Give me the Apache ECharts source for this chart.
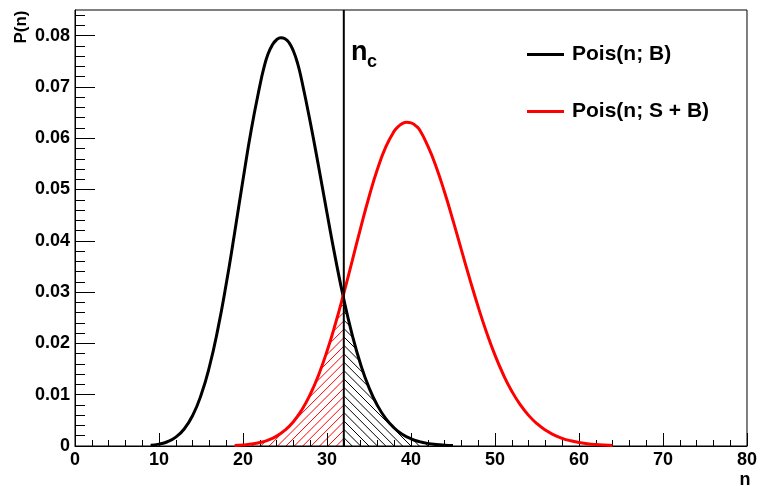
<!DOCTYPE html>
<html>
<head>
<meta charset="utf-8">
<script src="https://cdn.jsdelivr.net/npm/echarts@6/dist/echarts.min.js"></script>
<style>
  html, body { margin: 0; padding: 0; background: #fff; }
  #chart { width: 760px; height: 486px; }
</style>
</head>
<body>
<div id="chart"></div>
<script>
// chart data (extra half steps near the peaks)
var nB = [9, 10, 11, 12, 13, 14, 15, 16, 17, 18, 19, 20, 21, 22, 22.5, 23, 23.5, 24, 24.5,
          25, 25.5, 26, 26.5, 27, 28, 29, 30, 31, 32, 33, 34, 35, 36, 37, 38, 39, 40,
          41, 42, 43, 44, 45];
var pB = [0.00015, 0.00036, 0.00083, 0.00173, 0.00332, 0.00593, 0.00989, 0.01545,
          0.02273, 0.03156, 0.04153, 0.05191, 0.06180, 0.07020, 0.07380, 0.07650,
          0.07820, 0.07920, 0.07960, 0.07940, 0.07860, 0.07700, 0.07460, 0.07120,
          0.06321, 0.05449, 0.04541, 0.03662, 0.02861, 0.02168, 0.01594, 0.01138,
          0.00791, 0.00534, 0.00351, 0.00225, 0.00141, 0.00086, 0.00051, 0.00030,
          0.00017, 0.00009];

var nSB = [19, 20, 21, 22, 23, 24, 25, 26, 27, 28, 29, 30, 31, 32, 33, 34, 35, 36, 37,
           38, 38.5, 39, 39.5, 40, 40.5, 41, 42, 43, 44, 45, 46, 47, 48, 49, 50, 51, 52,
           53, 54, 55, 56, 57, 58, 59, 60, 61, 62, 63, 64];
var pSB = [0.00010, 0.00019, 0.00037, 0.00067, 0.00116, 0.00193, 0.00308, 0.00474,
           0.00703, 0.01004, 0.01385, 0.01847, 0.02383, 0.02978, 0.03610, 0.04247,
           0.04854, 0.05394, 0.05831, 0.06138, 0.06230, 0.06290, 0.06310, 0.06300,
           0.06250, 0.06170, 0.05849, 0.05441, 0.04946, 0.04397, 0.03823, 0.03254,
           0.02712, 0.02214, 0.01771, 0.01389, 0.01068, 0.00806, 0.00597, 0.00434,
           0.00310, 0.00218, 0.00150, 0.00102, 0.00068, 0.00045, 0.00029, 0.00018,
           0.00011];

var nCut = 32;
var nameB = 'Pois(n; B)';
var nameSB = 'Pois(n; S + B)';

// axis ticks
var yMajor = [0, 0.01, 0.02, 0.03, 0.04, 0.05, 0.06, 0.07, 0.08];
var yMinor = [];
for (var k = 1; k <= 42; k++) {
    if (k % 5 != 0) yMinor.push(+(k * 0.002).toFixed(3));
}

var FONT = 'Liberation Sans, Arial, sans-serif';

function pairs(ns, ps, lo, hi) {
    var out = [];
    for (var i = 0; i < ns.length; i++) {
        if (ns[i] >= lo && ns[i] <= hi) out.push([ns[i], ps[i]]);
    }
    return out;
}

function maxOf(pts) {
    var m = 0;
    pts.forEach(function (p) { if (p[1] > m) m = p[1]; });
    return m;
}

// tail regions (hatched)
var tailSB = pairs(nSB, pSB, 0, nCut);     // S+B below n_c
var tailB = pairs(nB, pB, nCut, 100);      // B above n_c

// diagonal hatch lines inside the data box [x0, x1] x [0, ytop]
function hatchItem(color, dir) {
    return function (params, api) {
        var a = api.coord([api.value(0), 0]);
        var b = api.coord([api.value(1), api.value(2)]);
        var x0 = a[0], x1 = b[0], yb = a[1], yt = b[1];
        var h = yb - yt, step = 8.4, kids = [];
        for (var u = x0 - h; u < x1; u += step) {
            var tLo = Math.max(0, x0 - u), tHi = Math.min(h, x1 - u);
            if (tHi <= tLo) continue;
            var shape = dir == '/'
                ? { x1: u + tLo, y1: yb - tLo, x2: u + tHi, y2: yb - tHi }
                : { x1: u + tLo, y1: yt + tLo, x2: u + tHi, y2: yt + tHi };
            kids.push({ type: 'line', shape: shape, style: { stroke: color, lineWidth: 1 } });
        }
        return { type: 'group', children: kids };
    };
}

// white cover from the curve up to the top, hides the hatch above the curve
function cover(pts) {
    return {
        type: 'line', silent: true, smooth: true, showSymbol: false,
        data: pts, lineStyle: { width: 0 },
        areaStyle: { color: '#ffffff', opacity: 1, origin: 'end' }, z: 2
    };
}

var chart = echarts.init(document.getElementById('chart'));

var option = {
    animation: false,
    backgroundColor: '#fff',
    grid: {
        left: 75, right: 11, top: 10, bottom: 40, z: 4,
        show: true, borderColor: '#000', borderWidth: 1, backgroundColor: 'transparent'
    },
    legend: {
        data: [nameB, nameSB],
        orient: 'vertical',
        left: 522, top: 39,
        icon: 'rect',
        itemWidth: 37, itemHeight: 3,
        itemGap: 36,
        textStyle: { fontSize: 21, fontWeight: 'bold', color: '#000', fontFamily: FONT, padding: [0, 0, 0, 3] }
    },
    xAxis: {
        type: 'value', min: 0, max: 80, interval: 10, z: 3,
        axisLine: { lineStyle: { color: '#000', width: 1 } },
        axisTick: { inside: true, length: 13, lineStyle: { color: '#000' } },
        minorTick: { show: true, splitNumber: 5, length: 6, lineStyle: { color: '#000' } },
        splitLine: { show: false },
        axisLabel: { margin: 5, fontSize: 18, fontWeight: 'bold', color: '#000', fontFamily: FONT }
    },
    yAxis: [{
        type: 'value', min: 0, max: 0.085, interval: 0.01,
        axisLine: { show: true, lineStyle: { color: '#000', width: 1 } },
        axisTick: { inside: true, length: 20, customValues: yMajor, lineStyle: { color: '#000' } },
        splitLine: { show: false },
        axisLabel: {
            margin: 5, fontSize: 18, fontWeight: 'bold', color: '#000', fontFamily: FONT,
            customValues: yMajor,
            formatter: function (v) { return v == 0 ? '0' : v.toFixed(2); }
        }
    }, {
        // minor ticks only
        type: 'value', min: 0, max: 0.085, position: 'left',
        axisLine: { show: false },
        axisTick: { inside: true, length: 10, customValues: yMinor, lineStyle: { color: '#000' } },
        axisLabel: { show: false },
        splitLine: { show: false }
    }],
    series: [{
        type: 'custom', silent: true, z: 1,
        renderItem: hatchItem('#ff0000', '/'),
        encode: { x: [0, 1], y: 2 },
        // start a bit inside the outer end, the curve is ~0 there
        data: [[tailSB[0][0] + 0.3, nCut, maxOf(tailSB)]]
    }, {
        type: 'custom', silent: true, z: 1,
        renderItem: hatchItem('#000000', '\\'),
        encode: { x: [0, 1], y: 2 },
        data: [[nCut, tailB[tailB.length - 1][0] - 0.3, maxOf(tailB)]]
    },
    cover(tailSB),
    cover(tailB),
    {
        name: nameB, type: 'line', smooth: true, showSymbol: false,
        data: pairs(nB, pB, 0, 100),
        itemStyle: { color: '#000' },
        lineStyle: { color: '#000', width: 3 },
        z: 6
    }, {
        name: nameSB, type: 'line', smooth: true, showSymbol: false,
        data: pairs(nSB, pSB, 0, 100),
        itemStyle: { color: '#ff0000' },
        lineStyle: { color: '#ff0000', width: 3 },
        z: 6
    }, {
        name: 'nc', type: 'line', silent: true, showSymbol: false,
        data: [[nCut, 0], [nCut, 0.085]],
        lineStyle: { color: '#000', width: 2 },
        z: 7
    }],
    graphic: [
        { type: 'text', z: 10, x: 351, y: 53, style: { text: 'n', font: 'bold 27px ' + FONT, fill: '#000', verticalAlign: 'middle' } },
        { type: 'text', z: 10, x: 367, y: 62, style: { text: 'c', font: 'bold 18px ' + FONT, fill: '#000', verticalAlign: 'middle' } },
        { type: 'text', z: 10, x: 745, y: 480, style: { text: 'n', font: 'bold 18px ' + FONT, fill: '#000', align: 'center', verticalAlign: 'middle' } },
        { type: 'text', z: 10, x: 21, y: 27, rotation: Math.PI / 2, style: { text: 'P(n)', font: 'bold 17px ' + FONT, fill: '#000', align: 'center', verticalAlign: 'middle' } }
    ]
};

chart.setOption(option);
</script>
</body>
</html>
